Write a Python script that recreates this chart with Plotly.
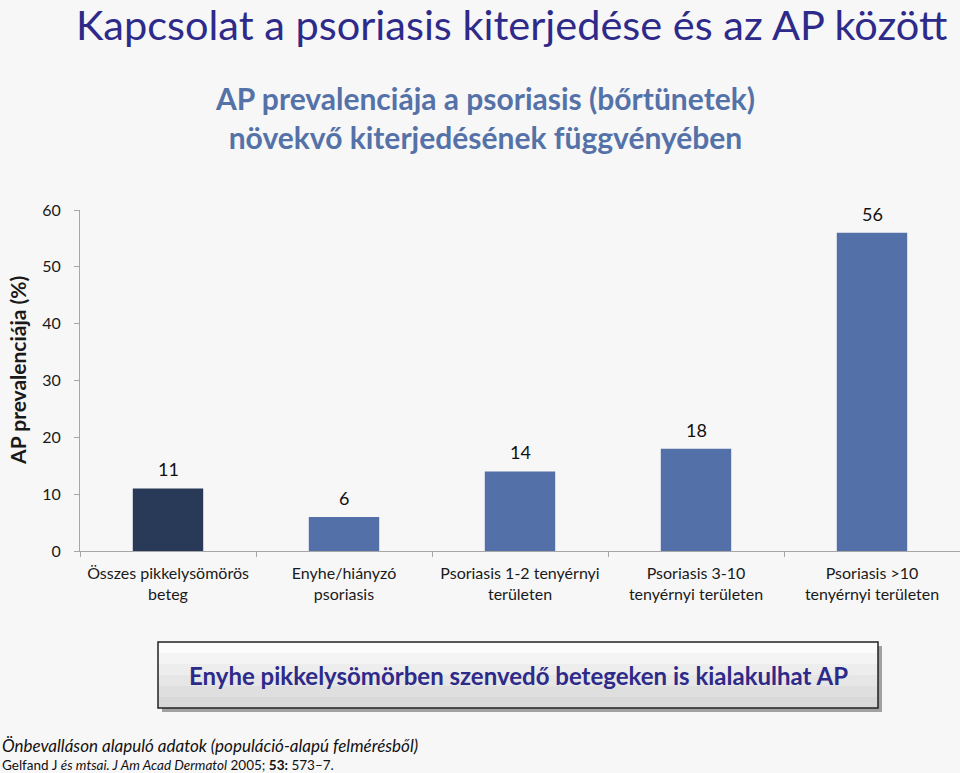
import plotly.graph_objects as go

categories = ["Összes pikkelysömörös<br>beteg", "Enyhe/hiányzó<br>psoriasis",
              "Psoriasis 1-2 tenyérnyi<br>területen", "Psoriasis 3-10<br>tenyérnyi területen",
              "Psoriasis >10<br>tenyérnyi területen"]
values = [11, 6, 14, 18, 56]
bar_colors = ["#283A58", "#5470A8", "#5470A8", "#5470A8", "#5470A8"]
y_ticks = [0, 10, 20, 30, 40, 50, 60]

FONT = "Lato"
fig = go.Figure()
fig.add_trace(go.Bar(x=categories, y=values, marker=dict(color=bar_colors, line=dict(width=0)),
                     width=0.4, hoverinfo="skip"))

for c, v in zip(categories, values):
    fig.add_annotation(x=c, y=v, text=str(v), showarrow=False, yanchor="middle", yshift=19,
                       font=dict(family=FONT, size=18, color="#111111"))

# Titles
fig.add_annotation(xref="paper", yref="paper", x=(511 - 80) / 880, y=(551 - 24) / 341,
                   text="Kapcsolat a psoriasis kiterjedése és az AP között",
                   showarrow=False, xanchor="center", yanchor="middle",
                   font=dict(family=FONT, size=41.5, color="#2E2A8A"))
fig.add_annotation(xref="paper", yref="paper", x=(485 - 80) / 880, y=1.272,
                   text="<b>AP prevalenciája a psoriasis (bőrtünetek)<br>növekvő kiterjedésének függvényében</b>",
                   showarrow=False, xanchor="center", yanchor="middle",
                   font=dict(family=FONT, size=30, color="#5572A8"))
fig.add_annotation(xref="paper", yref="paper", x=-0.0705, y=0.531, text="<b>AP prevalenciája (%)</b>",
                   showarrow=False, textangle=-90, xanchor="center", yanchor="middle",
                   font=dict(family=FONT, size=21, color="#1a1a1a"))

# Box with shadow and gradient-like bands
x0, x1 = (158 - 80) / 880, (878 - 80) / 880
ytop, ybot = (551 - 642) / 341, (551 - 708) / 341
fig.add_shape(type="rect", xref="paper", yref="paper", x0=x0 + 4 / 880, x1=x1 + 4 / 880,
              y0=ybot - 4 / 341, y1=ytop - 4 / 341, fillcolor="rgba(0,0,0,0.35)", line=dict(width=0), layer="above")
bands = ["#FBFBFB", "#F4F4F4", "#EDEDED", "#E6E6E6", "#DFDFDF", "#D8D8D8"]
n = len(bands)
for i, col in enumerate(bands):
    fig.add_shape(type="rect", xref="paper", yref="paper", x0=x0, x1=x1,
                  y0=ytop - (i + 1) * (ytop - ybot) / n, y1=ytop - i * (ytop - ybot) / n,
                  fillcolor=col, line=dict(width=0), layer="above")
fig.add_shape(type="rect", xref="paper", yref="paper", x0=x0, x1=x1, y0=ybot, y1=ytop,
              fillcolor="rgba(0,0,0,0)", line=dict(color="#222222", width=1.5), layer="above")
fig.add_annotation(xref="paper", yref="paper", x=(x0 + x1) / 2, y=(ytop + ybot) / 2,
                   text="<b>Enyhe pikkelysömörben szenvedő betegeken is kialakulhat AP</b>",
                   showarrow=False, xanchor="center", yanchor="middle",
                   font=dict(family=FONT, size=24, color="#2E2A8A"))

# Footer
fig.add_annotation(xref="paper", yref="paper", x=-0.0909, y=(551 - 745) / 341, xanchor="left", yanchor="middle",
                   text="<i>Önbevalláson alapuló adatok (populáció-alapú felmérésből)</i>", showarrow=False,
                   font=dict(family=FONT, size=17, color="#111111"))
fig.add_annotation(xref="paper", yref="paper", x=-0.0909, y=(551 - 765) / 341, xanchor="left", yanchor="middle",
                   text="Gelfand J <i>és mtsai. J Am Acad Dermatol</i> 2005; <b>53:</b> 573–7.", showarrow=False,
                   font=dict(family=FONT, size=13.5, color="#111111"))

fig.update_layout(
    width=960, height=773,
    margin=dict(l=80, r=0, t=210, b=222),
    paper_bgcolor="#F7F7F7", plot_bgcolor="#F7F7F7",
    showlegend=False,
    bargap=0.6,
    font=dict(family=FONT),
)
fig.update_xaxes(showline=True, linecolor="#A6A6A6", linewidth=1, ticks="outside", tickson="boundaries",
                 ticklen=5, tickcolor="#A6A6A6", showgrid=False, zeroline=False, tickangle=0, automargin=False,
                 ticklabelstandoff=8,
                 tickfont=dict(family=FONT, size=16, color="#1a1a1a"), range=[-0.5, 4.5])
fig.update_yaxes(showline=True, linecolor="#A6A6A6", linewidth=1, ticks="outside", ticklen=5,
                 tickcolor="#A6A6A6", showgrid=False, zeroline=False, range=[0, 60], tickvals=y_ticks,
                 automargin=False,
                 tickfont=dict(family=FONT, size=16, color="#1a1a1a"), ticklabelstandoff=10)

fig.write_html("out.html", config={"displayModeBar": False},
               post_script="document.body.style.margin='0';document.body.style.background='#F7F7F7';")
